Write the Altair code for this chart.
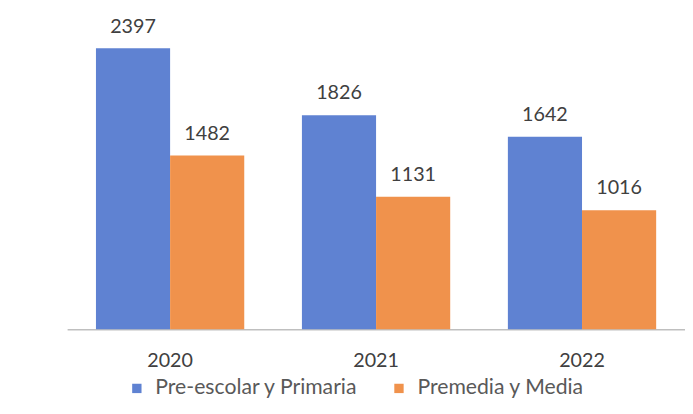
import altair as alt
import pandas as pd

years = ["2020", "2021", "2022"]
series = ["Pre-escolar y Primaria", "Premedia y Media"]
primaria = [2397, 1826, 1642]
premedia = [1482, 1131, 1016]
colors = ["#5F82D2", "#F0924C"]

rows = []
for i, y in enumerate(years):
    rows.append({"year": y, "serie": series[0], "value": primaria[i]})
    rows.append({"year": y, "serie": series[1], "value": premedia[i]})
df = pd.DataFrame(rows)

FONT = "Lato"

x = alt.X("year:N", sort=years, title=None,
          scale=alt.Scale(paddingInner=0.28, paddingOuter=0.14),
          axis=alt.Axis(labelAngle=0, labelFont=FONT, labelFontSize=20,
                        labelColor="#404040", ticks=False, labelPadding=22,
                        domainColor="#BFBFBF", domainWidth=1.5))
xo = alt.XOffset("serie:N", sort=series, scale=alt.Scale(paddingInner=0, paddingOuter=0))
y = alt.Y("value:Q", axis=None, scale=alt.Scale(domain=[0, 2700], nice=False))

bars = alt.Chart(df).mark_bar().encode(
    x=x, xOffset=xo, y=y,
    color=alt.Color("serie:N", sort=series,
                    scale=alt.Scale(domain=series, range=colors),
                    legend=alt.Legend(title=None, orient="none", direction="horizontal",
                                      legendX=60, legendY=370,
                                      symbolType="square", symbolSize=90,
                                      labelFont=FONT, labelFontSize=21.5, labelLimit=400,
                                      labelColor="#595959", columnPadding=30, labelOffset=8,
                                      symbolStrokeWidth=0, padding=0)),
)

labels = alt.Chart(df).mark_text(baseline="bottom", dy=-12, font=FONT,
                                 fontSize=20, color="#404040").encode(
    x=x, xOffset=xo, y=y, text=alt.Text("value:Q", format="d"),
)

edge = alt.Chart(df).mark_rule(color="#D0D0D0", strokeWidth=1.5).encode(
    x=alt.value(-62), y=alt.value(-10), y2=alt.value(400)
)

chart = alt.layer(bars, labels, edge).properties(
    width=627, height=321,
    autosize=alt.AutoSizeParams(type="none"),
    padding={"left": 60, "top": 2, "right": 0, "bottom": 72},
).configure_view(stroke=None)

chart.save("out.html", embed_options={"renderer": "svg", "actions": False})
